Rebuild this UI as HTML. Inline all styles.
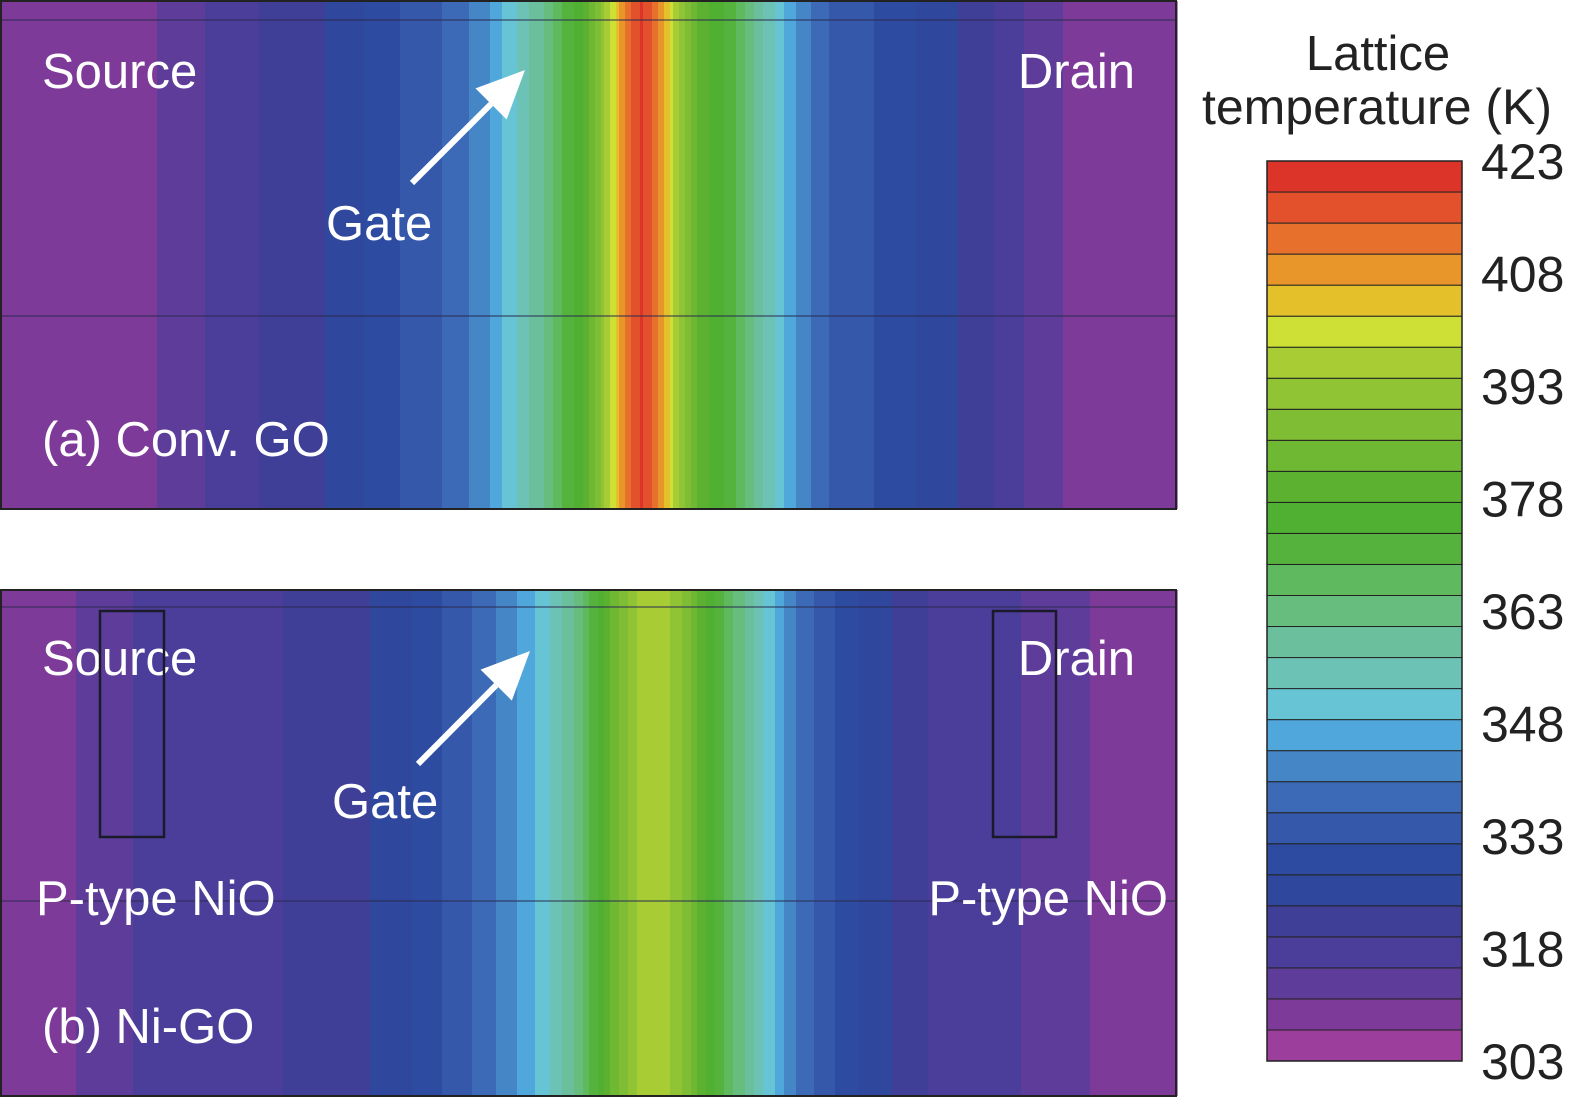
<!DOCTYPE html>
<html><head><meta charset="utf-8"><style>
body{margin:0;background:#fff;width:1576px;height:1105px;overflow:hidden;font-family:"Liberation Sans",sans-serif}
svg text{font-family:"Liberation Sans",sans-serif}
</style></head><body>
<svg id="chart" width="1576" height="1105"></svg>
<script>
// colorbar band colors, bottom (303 K) to top (423 K)
const bandColors=["#9c3f9c","#7d3a98","#5e3d9a","#4a3e9a","#3f3f98","#2f479d","#2d4ba0","#3558aa","#3c6ab6","#4586c6","#4fa7dc","#66c4d4","#6cc2b4","#6cbf9c","#67bd7e","#5fb95e","#55b33d","#4fb032","#5cb131","#6eb834","#7fbe34","#90c434","#a7cc34","#cedf36","#e4c12a","#e8962a","#e6702c","#e2502c","#dc3429"];
const tickLabels=[303,318,333,348,363,378,393,408,423];
const tMin=303,tMax=423;
// lateral position (0..1 of device width) and temperature profiles
const posA=[0,0.10,0.14,0.20,0.28,0.34,0.39,0.415,0.43,0.46,0.50,0.515,0.53,0.545,0.56,0.575,0.59,0.62,0.655,0.67,0.705,0.76,0.83,0.88,0.935,1];
const tempA=[307.5,308,312,318,324,332,338,344,350,360,380,395,410,420,411,396,382,372,354,346,336,330,322,314,308,307.5];
const posB=[0,0.06,0.12,0.20,0.30,0.35,0.40,0.43,0.46,0.49,0.52,0.545,0.56,0.575,0.60,0.63,0.655,0.67,0.70,0.74,0.80,0.88,0.93,1];
const tempB=[308,311,316,318,322,328,336,342,350,362,382,396,398,392,378,362,350,342,334,326,318,315,311,309];
const ns="http://www.w3.org/2000/svg";
const svg=document.getElementById('chart');
function mk(tag,attrs,parent){const e=document.createElementNS(ns,tag);for(const k in attrs)e.setAttribute(k,attrs[k]);(parent||svg).appendChild(e);return e;}
function colorOf(t){let i=Math.floor((t-tMin)/(tMax-tMin)*bandColors.length);i=Math.max(0,Math.min(bandColors.length-1,i));return bandColors[i];}
function interp(ps,ts,p){for(let i=1;i<ps.length;i++){if(p<=ps[i]){const f=(p-ps[i-1])/(ps[i]-ps[i-1]);return ts[i-1]+f*(ts[i]-ts[i-1]);}}return ts[ts.length-1];}
function panel(name,y0,h,ps,ts,lines){
  const g=mk('g',{});
  
  
  const W=1175,x0=1,step=3;
  for(let x=0;x<W;x+=step){const t=interp(ps,ts,(x+step/2)/W);
    mk('rect',{x:x0+x,y:y0,width:step+0.6,height:h,fill:colorOf(t)},g);}
  lines.forEach(ly=>mk('line',{x1:0,x2:1177,y1:ly,y2:ly,stroke:'#2a2a50','stroke-width':1},g));
  const b=mk('rect',{x:1,y:y0,width:1175,height:h,fill:'none',stroke:'#222','stroke-width':2},g);
  
  
}
panel('panel-a-conv-go',1,508,posA,tempA,[20,316]);
panel('panel-b-ni-go',590,506,posB,tempB,[607,901]);
function txt(s,x,y,size,name,anchor,fill){const t=mk('text',{x:x,y:y,'font-size':size,fill:fill||'#fff','text-anchor':anchor||'start'});t.textContent=s;
  
  return t;}
txt('Source',42,88,49,'source-label-a');txt('Drain',1135,88,49,'drain-label-a','end');
txt('Gate',326,240,49,'gate-label-a');txt('(a) Conv. GO',42,456,49,'panel-a-title');
txt('Source',42,675,49,'source-label-b');txt('Drain',1135,675,49,'drain-label-b','end');
txt('Gate',332,818,49,'gate-label-b');txt('P-type NiO',36,915,49,'nio-label-left');
txt('P-type NiO',1168,915,49,'nio-label-right','end');txt('(b) Ni-GO',42,1043,49,'panel-b-title');
function arrow(x1,y1,x2,y2,name){const g=mk('g',{});
  
  
  const a=Math.atan2(y2-y1,x2-x1),L=48,Wd=22;
  const bx=x2-L*Math.cos(a),by=y2-L*Math.sin(a);
  mk('line',{x1:x1,y1:y1,x2:bx,y2:by,stroke:'#fff','stroke-width':6},g);
  mk('polygon',{points:`${x2},${y2} ${bx+Wd*Math.sin(a)},${by-Wd*Math.cos(a)} ${bx-Wd*Math.sin(a)},${by+Wd*Math.cos(a)}`,fill:'#fff'},g);}
arrow(412,183,525,70,'gate-arrow-a');arrow(418,764,530,651,'gate-arrow-b');
[[100,164],[993,1056]].forEach((b,i)=>{const r=mk('rect',{x:b[0],y:611,width:b[1]-b[0],height:226,fill:'none',stroke:'#1a1a2a','stroke-width':2.5});
  
  });
// colorbar
const cbX=1267,cbW=195,cbTop=161,cbBot=1061,n=bandColors.length,bh=(cbBot-cbTop)/n;
const cb=mk('g',{});


bandColors.forEach((c,i)=>{const y=cbBot-(i+1)*bh;
  const r=mk('rect',{x:cbX,y:y,width:cbW,height:bh,fill:c,stroke:'#222','stroke-width':1},cb);
  
  });
mk('rect',{x:cbX,y:cbTop,width:cbW,height:cbBot-cbTop,fill:'none',stroke:'#222','stroke-width':1.5},cb);
tickLabels.forEach(v=>{const y=cbBot-(v-tMin)/(tMax-tMin)*(cbBot-cbTop);
  txt(String(v),1481,y+18,50,'colorbar-tick-'+v,'start','#222');});
txt('Lattice',1378,70,49,'colorbar-title-line1','middle','#222');
txt('temperature (K)',1377,124,50,'colorbar-title-line2','middle','#222');
</script>
</body></html>
